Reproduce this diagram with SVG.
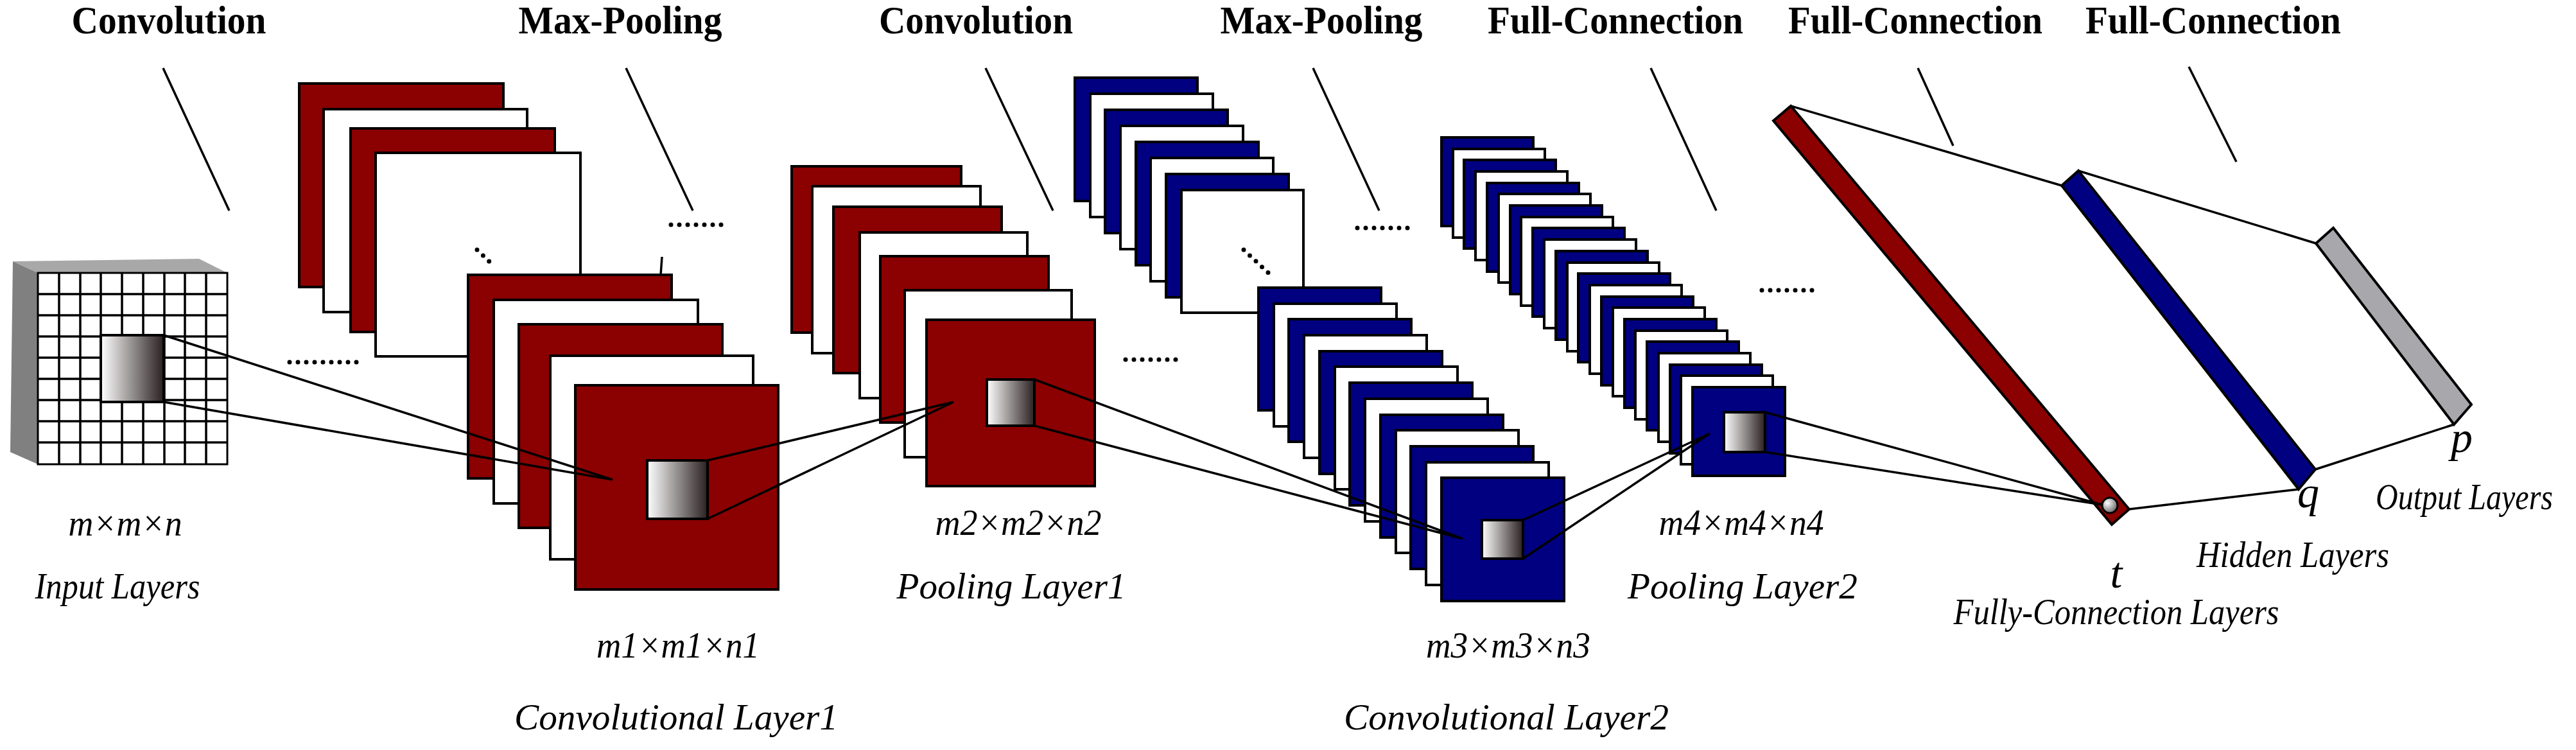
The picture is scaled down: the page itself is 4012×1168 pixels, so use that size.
<svg xmlns="http://www.w3.org/2000/svg" width="4012" height="1168" viewBox="0 0 4012 1168">
<defs>
<linearGradient id="g" x1="0" y1="0" x2="1" y2="0"><stop offset="0" stop-color="#fff"/><stop offset="1" stop-color="#2a2020"/></linearGradient>
<radialGradient id="rg" cx="0.35" cy="0.35" r="0.7"><stop offset="0" stop-color="#fff"/><stop offset="1" stop-color="#666"/></radialGradient>
<style>
.t{font-family:"Liberation Serif",serif;font-weight:bold;font-size:62px;text-anchor:middle}
.l{font-family:"Liberation Serif",serif;font-style:italic;font-size:56px;text-anchor:middle}
.v{font-family:"Liberation Serif",serif;font-style:italic;font-size:68px;text-anchor:middle}
.r{fill:#8b0000;stroke:#000;stroke-width:4}
.b{fill:#000080;stroke:#000;stroke-width:4}
.w{fill:#fff;stroke:#000;stroke-width:4}
.k{stroke:#000;stroke-width:3.5;fill:none}
.sq{fill:url(#g);stroke:#000;stroke-width:4}
.d{stroke:#000;stroke-width:7;stroke-dasharray:0 13;stroke-linecap:round;fill:none}
</style>
</defs>
<rect width="4012" height="1168" fill="#fff"/>
<g id="titles">
<text class="t" x="263" y="52" textLength="303" lengthAdjust="spacingAndGlyphs">Convolution</text>
<text class="t" x="966" y="52" textLength="317" lengthAdjust="spacingAndGlyphs">Max-Pooling</text>
<text class="t" x="1520" y="52" textLength="302" lengthAdjust="spacingAndGlyphs">Convolution</text>
<text class="t" x="2058" y="52" textLength="315" lengthAdjust="spacingAndGlyphs">Max-Pooling</text>
<text class="t" x="2516" y="52" textLength="398" lengthAdjust="spacingAndGlyphs">Full-Connection</text>
<text class="t" x="2983" y="52" textLength="396" lengthAdjust="spacingAndGlyphs">Full-Connection</text>
<text class="t" x="3447" y="52" textLength="398" lengthAdjust="spacingAndGlyphs">Full-Connection</text>
</g>
<g id="input">
<polygon points="20,407 310,403 354,425 59,425" fill="#a8a8a8"/>
<polygon points="20,407 59,425 59,723 16,704" fill="#808080"/>
<rect x="59" y="425" width="295" height="298" fill="#fff" stroke="#000" stroke-width="3"/>
<path class="k" stroke-width="2.5" d="M92,425V723M125,425V723M157,425V723M190,425V723M223,425V723M256,425V723M288,425V723M321,425V723M59,458H354M59,491H354M59,524H354M59,557H354M59,590H354M59,623H354M59,656H354M59,689H354"/>
<rect class="sq" x="157" y="522" width="98" height="104"/>
</g>
<g id="conv1">
<rect class="r" x="466" y="130" width="318" height="317"/>
<rect class="w" x="504" y="170" width="317" height="316"/>
<rect class="r" x="546" y="200" width="318" height="317"/>
<rect class="w" x="585" y="238" width="319" height="317"/>
<path class="d" d="M743,389L770,415"/>
<path class="k" stroke-width="2" d="M1031,400L1029,428"/>
<rect class="r" x="729" y="428" width="317" height="317"/>
<rect class="w" x="769" y="467" width="318" height="317"/>
<rect class="r" x="808" y="505" width="317" height="317"/>
<rect class="w" x="857" y="554" width="316" height="317"/>
<rect class="r" x="896" y="600" width="316" height="318"/>
<rect class="sq" x="1008" y="717" width="94" height="91"/>
</g>
<g id="pool1">
<rect class="r" x="1233" y="259" width="264" height="259"/>
<rect class="w" x="1265" y="290" width="262" height="260"/>
<rect class="r" x="1298" y="322" width="262" height="259"/>
<rect class="w" x="1339" y="362" width="261" height="258"/>
<rect class="r" x="1371" y="399" width="262" height="259"/>
<rect class="w" x="1409" y="452" width="260" height="260"/>
<rect class="r" x="1443" y="498" width="262" height="259"/>
<rect class="sq" x="1537" y="591" width="74" height="72"/>
</g>
<g id="conv2">
<rect class="b" x="1674" y="121" width="191" height="192"/>
<rect class="w" x="1698" y="146" width="191" height="192"/>
<rect class="b" x="1721" y="171" width="191" height="192"/>
<rect class="w" x="1745" y="196" width="191" height="192"/>
<rect class="b" x="1769" y="221" width="191" height="192"/>
<rect class="w" x="1792" y="246" width="191" height="192"/>
<rect class="b" x="1816" y="271" width="191" height="192"/>
<rect class="w" x="1840" y="296" width="190" height="191"/>
<path class="d" d="M1937,389L1983,432"/>
<rect class="b" x="1960" y="448" width="191" height="191"/>
<rect class="w" x="1984" y="473" width="191" height="191"/>
<rect class="b" x="2007" y="497" width="191" height="191"/>
<rect class="w" x="2031" y="522" width="191" height="191"/>
<rect class="b" x="2055" y="547" width="191" height="191"/>
<rect class="w" x="2079" y="571" width="191" height="191"/>
<rect class="b" x="2102" y="596" width="191" height="191"/>
<rect class="w" x="2126" y="621" width="191" height="191"/>
<rect class="b" x="2150" y="646" width="191" height="191"/>
<rect class="w" x="2174" y="670" width="191" height="191"/>
<rect class="b" x="2197" y="695" width="191" height="191"/>
<rect class="w" x="2221" y="720" width="191" height="191"/>
<rect class="b" x="2245" y="744" width="191" height="192"/>
<rect class="sq" x="2308" y="810" width="64" height="60"/>
</g>
<g id="pool2">
<rect class="b" x="2245" y="214" width="143" height="138"/>
<rect class="w" x="2263" y="232" width="143" height="138"/>
<rect class="b" x="2280" y="249" width="143" height="138"/>
<rect class="w" x="2298" y="267" width="143" height="138"/>
<rect class="b" x="2316" y="285" width="143" height="138"/>
<rect class="w" x="2334" y="302" width="143" height="138"/>
<rect class="b" x="2352" y="320" width="143" height="138"/>
<rect class="w" x="2369" y="338" width="143" height="138"/>
<rect class="b" x="2387" y="355" width="143" height="138"/>
<rect class="w" x="2405" y="373" width="143" height="138"/>
<rect class="b" x="2423" y="391" width="143" height="138"/>
<rect class="w" x="2441" y="409" width="143" height="138"/>
<rect class="b" x="2458" y="426" width="143" height="138"/>
<rect class="w" x="2476" y="444" width="143" height="138"/>
<rect class="b" x="2494" y="462" width="143" height="138"/>
<rect class="w" x="2512" y="479" width="143" height="138"/>
<rect class="b" x="2530" y="497" width="143" height="138"/>
<rect class="w" x="2547" y="515" width="143" height="138"/>
<rect class="b" x="2565" y="532" width="143" height="138"/>
<rect class="w" x="2583" y="550" width="143" height="138"/>
<rect class="b" x="2601" y="568" width="143" height="138"/>
<rect class="w" x="2618" y="585" width="143" height="138"/>
<rect class="b" x="2636" y="603" width="144" height="138"/>
<rect class="sq" x="2685" y="642" width="64" height="62"/>
</g>
<g id="fc1">
<polygon points="2762,188 2789,165 3316,793 3289,817" fill="#8b0000" stroke="#000" stroke-width="4"/>
<circle cx="3286" cy="787" r="12" fill="url(#rg)" stroke="#000" stroke-width="3"/>
</g>
<g id="hidden">
<polygon points="3211,289 3237,266 3606,731 3580,762" fill="#000080" stroke="#000" stroke-width="4"/>
</g>
<g id="output">
<polygon points="3607,379 3634,355 3849,630 3822,661" fill="#a8a8ac" stroke="#000" stroke-width="4"/>
</g>
<g id="connectors">
<path class="k" d="M254,106L357,328M975,106L1079,328M1535,106L1640,328M2045,106L2148,328M2571,106L2673,328M2987,106L3042,227M3409,104L3483,252"/>
<path class="k" d="M255,522L954,747L255,626"/>
<path class="k" d="M1102,717L1485,626L1102,808"/>
<path class="k" d="M1611,591L2278,839L1611,663"/>
<path class="k" d="M2372,810L2663,675L2372,870"/>
<path class="k" d="M2749,642L3274,786L2749,704"/>
<path class="k" d="M2789,165L3211,289M3316,793L3580,762M3237,266L3607,379M3606,731L3822,661"/>
<path class="d" d="M451,564H560M1045,350H1130M1753,560H1838M2114,355H2197M2744,452H2827"/>
</g>
<g id="labels">
<text class="l" x="195" y="834" textLength="177" lengthAdjust="spacingAndGlyphs">m×m×n</text>
<text class="l" x="183" y="932" textLength="257" lengthAdjust="spacingAndGlyphs">Input Layers</text>
<text class="l" x="1056" y="1024" textLength="254" lengthAdjust="spacingAndGlyphs">m1×m1×n1</text>
<text class="l" x="1053" y="1136" textLength="504" lengthAdjust="spacingAndGlyphs">Convolutional Layer1</text>
<text class="l" x="1586" y="833" textLength="259" lengthAdjust="spacingAndGlyphs">m2×m2×n2</text>
<text class="l" x="1575" y="932" textLength="357" lengthAdjust="spacingAndGlyphs">Pooling Layer1</text>
<text class="l" x="2349" y="1024" textLength="256" lengthAdjust="spacingAndGlyphs">m3×m3×n3</text>
<text class="l" x="2346" y="1136" textLength="506" lengthAdjust="spacingAndGlyphs">Convolutional Layer2</text>
<text class="l" x="2712" y="833" textLength="257" lengthAdjust="spacingAndGlyphs">m4×m4×n4</text>
<text class="l" x="2714" y="932" textLength="358" lengthAdjust="spacingAndGlyphs">Pooling Layer2</text>
<text class="v" x="3296" y="915">t</text>
<text class="l" x="3296" y="972" textLength="507" lengthAdjust="spacingAndGlyphs">Fully-Connection Layers</text>
<text class="v" x="3595" y="790">q</text>
<text class="l" x="3571" y="883" textLength="300" lengthAdjust="spacingAndGlyphs">Hidden Layers</text>
<text class="v" x="3834" y="704">p</text>
<text class="l" x="3838" y="793" textLength="276" lengthAdjust="spacingAndGlyphs">Output Layers</text>
</g>
</svg>
